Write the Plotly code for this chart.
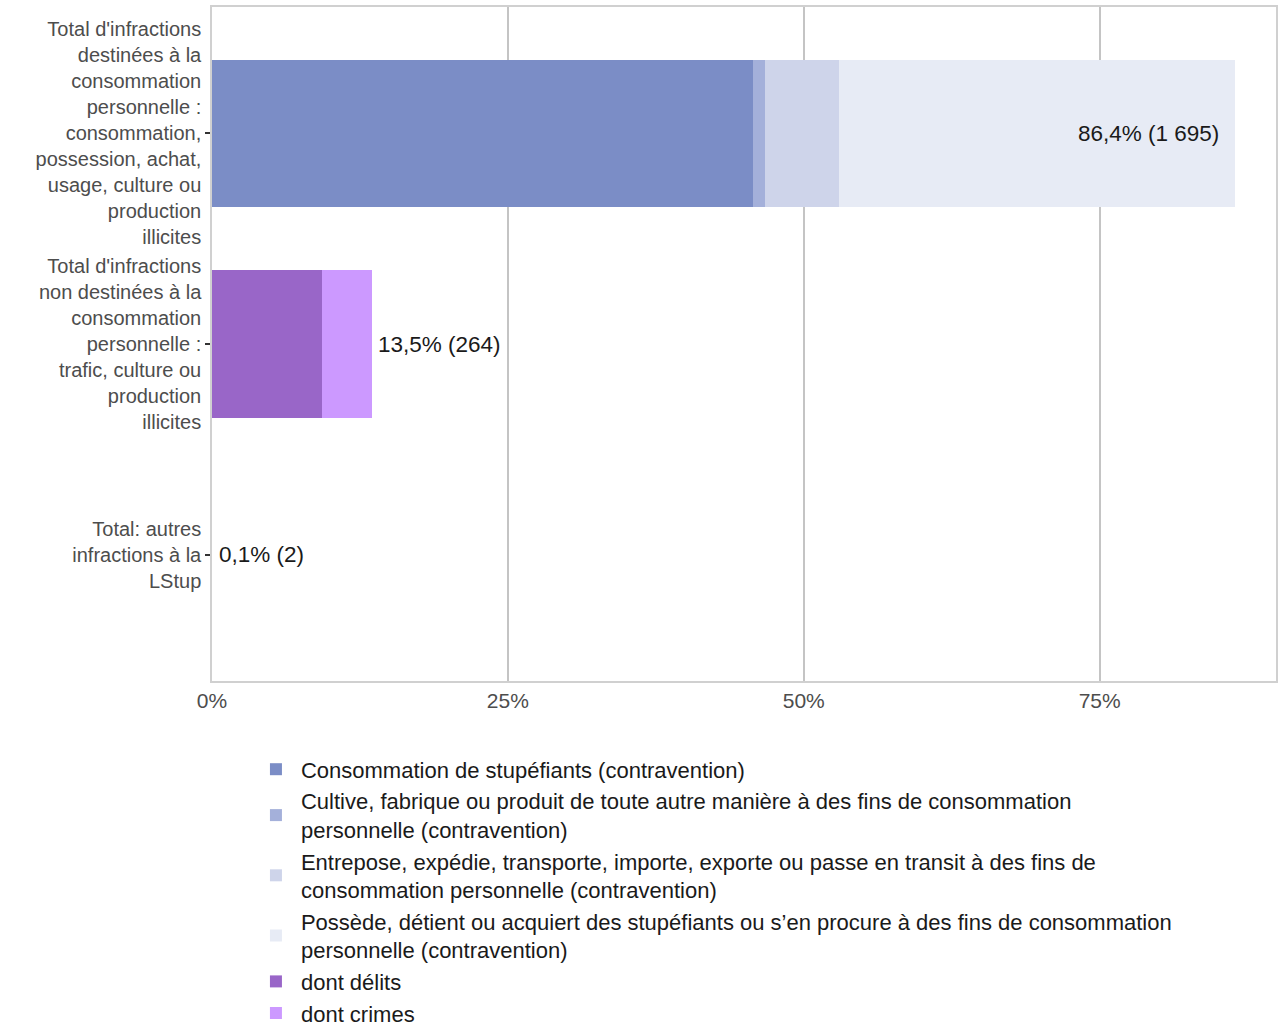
import plotly.graph_objects as go

categories = [
    "Total d'infractions<br>destinées à la<br>consommation<br>personnelle :<br>consommation,<br>possession, achat,<br>usage, culture ou<br>production<br>illicites",
    "Total d'infractions<br>non destinées à la<br>consommation<br>personnelle :<br>trafic, culture ou<br>production<br>illicites",
    "Total: autres<br>infractions à la<br>LStup",
]

series_names = [
    "Consommation de stupéfiants (contravention)",
    "Cultive, fabrique ou produit de toute autre manière à des fins de consommation<br>personnelle (contravention)",
    "Entrepose, expédie, transporte, importe, exporte ou passe en transit à des fins de<br>consommation personnelle (contravention)",
    "Possède, détient ou acquiert des stupéfiants ou s’en procure à des fins de consommation<br>personnelle (contravention)",
    "dont délits",
    "dont crimes",
]
series_colors = ["#7b8dc6", "#a4b0da", "#ced4ea", "#e7ebf5", "#9966c8", "#cc99ff"]

# values in % for each category (cat1, cat2, cat3)
series_values = [
    [45.7, 0, 0],
    [1.0, 0, 0],
    [6.3, 0, 0],
    [33.4, 0, 0],
    [0, 9.3, 0],
    [0, 4.2, 0],
]

total_pct = [86.4, 13.5, 0.1]
total_labels = ["86,4% (1 695)", "13,5% (264)", "0,1% (2)"]
label_inside = [True, False, False]

FONT = "Liberation Sans, Arial, sans-serif"

fig = go.Figure()
for name, col, vals in zip(series_names, series_colors, series_values):
    fig.add_trace(go.Bar(
        y=categories, x=vals, name=name, orientation="h",
        marker=dict(color=col, line=dict(width=0)),
        legendgroup=name,
        hoverinfo="skip",
    ))

for cat, pct, lab, inside in zip(categories, total_pct, total_labels, label_inside):
    fig.add_annotation(
        x=pct, y=cat, text=lab, showarrow=False,
        xanchor="right" if inside else "left",
        xshift=-14 if inside else 4,
        font=dict(size=22.5, color="#1a1a1a", family=FONT),
    )

fig.update_layout(
    barmode="stack",
    bargap=0.3,
    width=1279, height=1032,
    margin=dict(l=212, r=3, t=7, b=351, autoexpand=False),
    paper_bgcolor="white",
    plot_bgcolor="white",
    font=dict(family=FONT, size=20, color="#4d4d4d"),
    showlegend=True,
    legend=dict(
        orientation="v",
        x=0.0366, xanchor="left",
        y=-0.100, yanchor="top",
        font=dict(size=22, color="#1a1a1a"),
        traceorder="normal",
        tracegroupgap=3,
        itemwidth=40,
        bgcolor="rgba(0,0,0,0)",
    ),
)

fig.update_xaxes(
    range=[0, 89.9],
    tickvals=[0, 25, 50, 75],
    ticktext=["0%", "25%", "50%", "75%"],
    showgrid=True, gridcolor="#c4c4c4", gridwidth=2,
    zeroline=False,
    showline=True, linecolor="#d0d0d0", linewidth=1.5, mirror=True,
    ticks="", tickfont=dict(size=21, color="#4d4d4d"),
    ticklabelstandoff=0,
    automargin=False,
)
fig.update_yaxes(
    categoryorder="array", categoryarray=categories,
    range=[2.6, -0.6],
    showgrid=False, zeroline=False,
    showline=True, linecolor="#d0d0d0", linewidth=1.5, mirror=True,
    ticks="outside", ticklen=5, tickwidth=2, tickcolor="#333333",
    tickfont=dict(size=20, color="#4d4d4d"),
    automargin=False,
)

fig.write_html(
    "out.html",
    config={"displayModeBar": False},
    post_script="document.body.style.margin='0';document.body.style.overflow='hidden';",
)
